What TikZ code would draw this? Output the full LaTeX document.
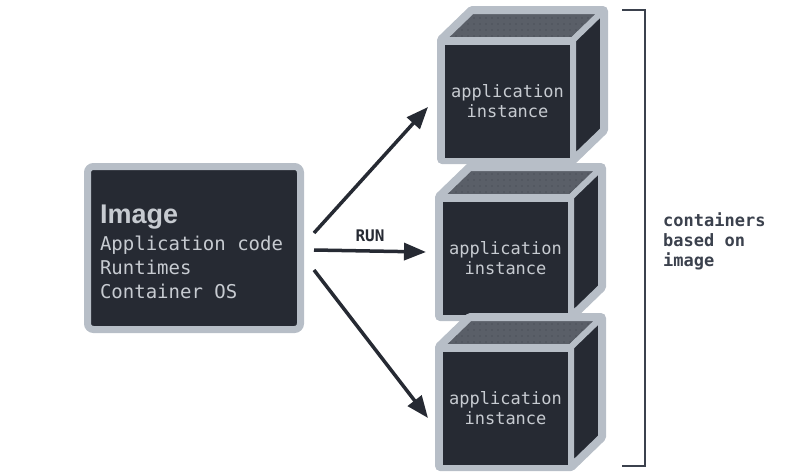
\documentclass[tikz,border=0pt]{standalone}
\usepackage{fontspec}
\setmonofont[WordSpace={1,0,0}]{DejaVu Sans Mono}
\setsansfont{Liberation Sans}
\usetikzlibrary{positioning, arrows.meta, calc, patterns.meta}

\definecolor{rimgray}{HTML}{B7BEC7}
\definecolor{darkfill}{HTML}{262A33}
\definecolor{topgray}{HTML}{5A5F68}
\definecolor{dotgray}{HTML}{3E424A}
\definecolor{boxtext}{HTML}{C7CBD1}
\definecolor{labeltext}{HTML}{3B414D}

\begin{document}
\begin{tikzpicture}[x=1pt, y=-1pt,
  rim/.style={draw=rimgray, fill=rimgray, line width=10pt, line join=round},
  cubeface/.style={draw=rimgray, fill=darkfill, line width=6pt, line join=round},
  topface/.style={draw=rimgray, line width=6pt, line join=round, preaction={fill=topgray},
    pattern={Dots[distance=6pt, radius=0.6pt]}, pattern color=dotgray},
  frontface/.style={cubeface, minimum width=131pt, minimum height=119pt, inner sep=0pt, outer sep=0pt,
    align=center, text=boxtext, font=\ttfamily\fontsize{17}{20}\selectfont},
  imgbox/.style={draw=rimgray, fill=darkfill, line width=7pt, rounded corners=6pt,
    minimum width=213pt, minimum height=163pt, text width=188pt, inner xsep=12.5pt, inner ysep=0pt,
    align=left, text=boxtext, font=\ttfamily\fontsize{19}{24}\selectfont},
  runarrow/.style={draw=darkfill, line width=3.5pt, -{Triangle[length=22pt, width=17pt]}},
  bracket/.style={draw=labeltext, line width=2pt},
  sidelabel/.style={align=left, inner sep=0pt, text=labeltext, font=\ttfamily\bfseries\fontsize{17}{20}\selectfont}
]
\useasboundingbox (0,0) rectangle (800,474);

% image
\node[imgbox] (img) at (194,248) {\spaceskip=0pt\relax
  \rule{0pt}{27pt}{\sffamily\bfseries\fontsize{27}{28}\selectfont Image}\\[3pt]
  Application code\\
  Runtimes\\
  Container OS
};

% containers
\foreach \cx/\cy/\nm in {442/40/inst1, 440/197/inst2, 440/347/inst3} {
  \draw[rim] (\cx,\cy+119) -- (\cx,\cy) -- (\cx+30,\cy-29) -- (\cx+161,\cy-29)
    -- (\cx+161,\cy+90) -- (\cx+131,\cy+119) -- cycle;
  \path[topface] (\cx,\cy) -- (\cx+30,\cy-29) -- (\cx+161,\cy-29) -- (\cx+131,\cy) -- cycle;
  \draw[cubeface] (\cx+131,\cy) -- (\cx+161,\cy-29) -- (\cx+161,\cy+90) -- (\cx+131,\cy+119) -- cycle;
  \node[frontface] (\nm) at (\cx+65.5,\cy+61) {application\\instance};
}

\draw[runarrow] ($(img.east)+(10,-15)$) -- ($(inst1.west)+(-14,6)$);
\draw[runarrow] ($(img.east)+(10,2)$) -- ($(inst2.west)+(-14,-6)$)
  node[midway, above=8pt, inner sep=0pt, text=darkfill, font=\ttfamily\bfseries\fontsize{16}{18}\selectfont] (run) {RUN};
\draw[runarrow] ($(img.east)+(10,22)$) -- ($(inst3.west)+(-12,10)$);

% bracket and its label
\draw[bracket] (622,10) -- (645,10) -- (645,466) -- (622,466);
\node[sidelabel, anchor=west] (lbl) at (663,241) {containers\\based on\\image};
\end{tikzpicture}
\end{document}
